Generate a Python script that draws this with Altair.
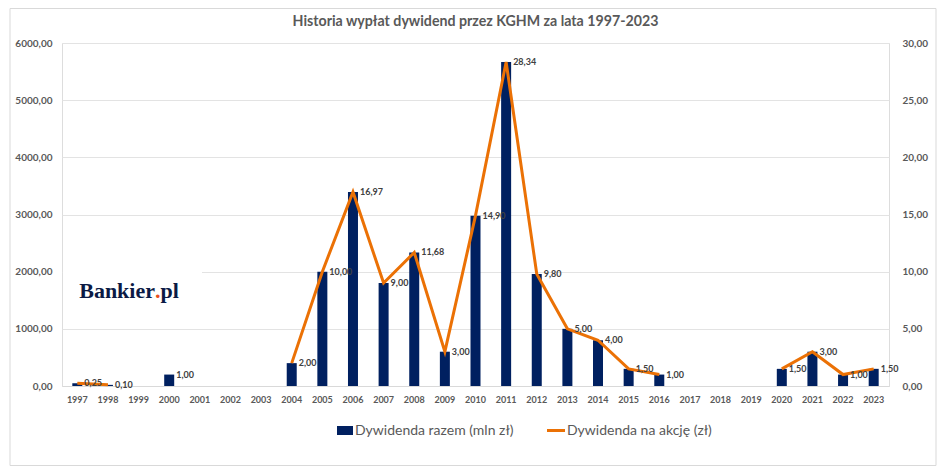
import altair as alt
import pandas as pd

years = [str(y) for y in range(1997, 2024)]
total = [50, 20, None, 200, None, None, None, 400, 2000, 3394, 1800, 2336, 600,
         2980, 5668, 1960, 1000, 800, 300, 200, None, None, None, 300, 600, 200, 300]
dps = [0.25, 0.10, None, 1.00, None, None, None, 2.00, 10.00, 16.97, 9.00, 11.68, 3.00,
       14.90, 28.34, 9.80, 5.00, 4.00, 1.50, 1.00, None, None, None, 1.50, 3.00, 1.00, 1.50]
left_ticks = [0, 1000, 2000, 3000, 4000, 5000, 6000]
right_ticks = [0, 5, 10, 15, 20, 25, 30]
title_text = "Historia wypłat dywidend przez KGHM za lata 1997-2023"
legend_labels = ["Dywidenda razem (mln zł)", "Dywidenda na akcję (zł)"]

# segment id for continuous runs of the line
seg, s, prev = [], 0, False
for v in dps:
    if v is None:
        if prev:
            s += 1
        prev = False
        seg.append(None)
    else:
        prev = True
        seg.append(s)

df = pd.DataFrame({"year": years, "total": total, "dps": dps, "seg": seg})

NAVY = "#002060"
ORANGE = "#EB7105"
GRAY = "#595959"
FONT = "Lato"
W, H = 827, 343

x_axis = alt.Axis(title=None, labelAngle=0, ticks=False, labelFontSize=9,
                  labelFontWeight="bold", labelColor=GRAY, labelPadding=9,
                  domainColor="#d9d9d9", labelFont=FONT)
xenc = alt.X("year:O", scale=alt.Scale(domain=years, paddingInner=0, paddingOuter=0),
             axis=x_axis)

base = alt.Chart(df)

bars = base.transform_filter("isValid(datum.total)").mark_bar(size=10, color=NAVY).encode(
    x=xenc,
    y=alt.Y("total:Q", scale=alt.Scale(domain=[0, 6000], nice=False),
            axis=alt.Axis(title=None, orient="left", values=left_ticks, ticks=False,
                          domain=False, gridColor="#e3e3e3", labelFontSize=10,
                          labelFontWeight="bold", labelColor=GRAY, labelPadding=10,
                          labelFont=FONT,
                          labelExpr="replace(format(datum.value, '.2f'), '.', ',')")),
)

line = base.transform_filter("isValid(datum.dps)").mark_line(
    color=ORANGE, strokeWidth=3).encode(
    x=xenc,
    y=alt.Y("dps:Q", scale=alt.Scale(domain=[0, 30], nice=False),
            axis=alt.Axis(title=None, orient="right", values=right_ticks, ticks=False,
                          domain=False, grid=False, labelFontSize=10,
                          labelFontWeight="bold", labelColor=GRAY, labelPadding=13,
                          labelFont=FONT,
                          labelExpr="replace(format(datum.value, '.2f'), '.', ',')")),
    detail="seg:N",
)

labels = base.transform_filter("isValid(datum.dps)").transform_calculate(
    lab="replace(format(datum.dps, '.2f'), '.', ',')"
).mark_text(align="left", baseline="middle", dx=7, fontSize=9, fontWeight="bold",
            color="#404040", font=FONT).encode(
    x=xenc,
    y=alt.Y("dps:Q"),
    text="lab:N",
)

right_group = alt.layer(line, labels)

one = pd.DataFrame({"k": [0]})
deco_base = alt.Chart(one)

border = deco_base.mark_rect(fillOpacity=0, stroke="#d9d9d9", strokeWidth=1).encode(
    x=alt.value(-52), x2=alt.value(874), y=alt.value(-34.5), y2=alt.value(422.5))

logo_bg = deco_base.mark_rect(color="white").encode(
    x=alt.value(1), x2=alt.value(140), y=alt.value(222), y2=alt.value(272))
logo1 = deco_base.mark_text(text="Bankier", align="right", baseline="alphabetic",
                            font="Liberation Serif", fontWeight="bold", fontSize=22,
                            color="#0B1A45").encode(x=alt.value(93), y=alt.value(255))
logo2 = deco_base.mark_text(text=".", align="left", baseline="alphabetic",
                            font="Liberation Serif", fontWeight="bold", fontSize=22,
                            color="#E8501E").encode(x=alt.value(93), y=alt.value(255))
logo3 = deco_base.mark_text(text="pl", align="left", baseline="alphabetic",
                            font="Liberation Serif", fontWeight="bold", fontSize=22,
                            color="#0B1A45").encode(x=alt.value(98.5), y=alt.value(255))

title = deco_base.mark_text(text=title_text, align="center", baseline="middle",
                            font=FONT, fontWeight="bold", fontSize=14.2,
                            color=GRAY).encode(x=alt.value(W / 2), y=alt.value(-21))

leg_sq = deco_base.mark_rect(color=NAVY).encode(
    x=alt.value(275), x2=alt.value(291), y=alt.value(383), y2=alt.value(392))
leg_t1 = deco_base.mark_text(text=legend_labels[0], align="left", baseline="middle",
                             font=FONT, fontSize=14, color=GRAY).encode(
    x=alt.value(293), y=alt.value(387.5))
leg_ln = deco_base.mark_rule(color=ORANGE, strokeWidth=3).encode(
    x=alt.value(485), x2=alt.value(503), y=alt.value(387.5))
leg_t2 = deco_base.mark_text(text=legend_labels[1], align="left", baseline="middle",
                             font=FONT, fontSize=14, color=GRAY).encode(
    x=alt.value(505), y=alt.value(387.5))

chart = alt.layer(
    bars, right_group, border, logo_bg, logo1, logo2, logo3, title,
    leg_sq, leg_t1, leg_ln, leg_t2
).resolve_scale(y="independent").properties(
    width=W, height=H,
    padding={"left": 54, "top": 35, "right": 50, "bottom": 80},
    autosize=alt.AutoSizeParams(type="none"),
).configure_view(stroke=None).configure(background="white")

chart.save("out.html", embed_options={"renderer": "svg", "actions": False})
